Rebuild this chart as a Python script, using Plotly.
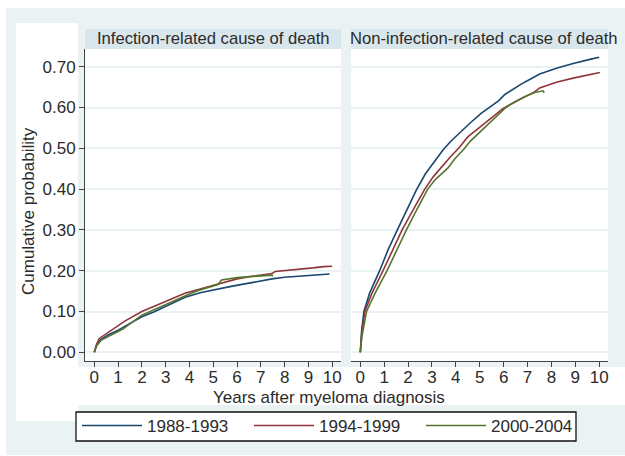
import plotly.graph_objects as go

W, H = 625, 456


def px(x):
    return x / W


def py(y):
    return 1 - y / H


# ---------------- data ----------------
series_names = ["1988-1993", "1994-1999", "2000-2004"]
series_colors = ["#1a476f", "#90353b", "#55752f"]
x_ticks = list(range(0, 11))
y_ticks = [0.0, 0.1, 0.2, 0.3, 0.4, 0.5, 0.6, 0.7]
y_tick_labels = ["0.00", "0.10", "0.20", "0.30", "0.40", "0.50", "0.60", "0.70"]
panel_titles = ["Infection-related cause of death", "Non-infection-related cause of death"]

# Infection-related cause of death
inf_t_8893 = [0, 0.1, 0.28, 0.6, 1.02, 1.5, 2.0, 2.5, 2.98, 3.4, 3.82, 4.45, 5.08, 5.7, 6.27, 6.9, 7.47, 8.0, 8.66, 9.3, 9.89]
inf_v_8893 = [0, 0.018, 0.032, 0.043, 0.055, 0.071, 0.087, 0.099, 0.112, 0.123, 0.135, 0.146, 0.154, 0.161, 0.167, 0.174, 0.180, 0.184, 0.187, 0.190, 0.192]

inf_t_9499 = [0, 0.1, 0.21, 0.67, 1.3, 2.0, 2.5, 2.98, 3.4, 3.81, 4.45, 5.08, 5.29, 6.0, 6.7, 7.47, 7.6, 8.0, 8.66, 9.2, 9.63, 10.0]
inf_v_9499 = [0, 0.02, 0.034, 0.052, 0.077, 0.100, 0.112, 0.124, 0.134, 0.145, 0.155, 0.165, 0.169, 0.180, 0.187, 0.193, 0.198, 0.200, 0.203, 0.207, 0.210, 0.211]

inf_t_0004 = [0, 0.1, 0.3, 0.7, 1.2, 2.0, 2.5, 3.0, 3.5, 4.0, 4.45, 5.01, 5.2, 5.35, 6.0, 6.7, 7.47, 7.5]
inf_v_0004 = [0, 0.016, 0.030, 0.042, 0.057, 0.091, 0.104, 0.118, 0.130, 0.143, 0.153, 0.163, 0.166, 0.177, 0.183, 0.186, 0.189, 0.186]

# Non-infection-related cause of death
non_t_8893 = [0, 0.05, 0.15, 0.39, 0.81, 1.16, 1.55, 2.0, 2.35, 2.72, 3.11, 3.46, 3.8, 4.23, 4.6, 5.07, 5.42, 5.8, 6.05, 6.4, 6.75, 7.17, 7.51, 8.21, 8.91, 9.61, 10.0]
non_v_8893 = [0, 0.05, 0.1, 0.145, 0.2, 0.251, 0.3, 0.355, 0.398, 0.437, 0.469, 0.496, 0.518, 0.543, 0.562, 0.586, 0.601, 0.617, 0.632, 0.646, 0.658, 0.671, 0.682, 0.696, 0.708, 0.718, 0.723]

non_t_9499 = [0, 0.06, 0.19, 0.49, 0.95, 1.37, 1.75, 2.21, 2.7, 3.05, 3.45, 3.74, 4.16, 4.5, 4.93, 5.3, 5.6, 5.98, 6.5, 6.89, 7.31, 7.51, 8.21, 8.91, 9.61, 10.03]
non_v_9499 = [0, 0.045, 0.1, 0.145, 0.2, 0.251, 0.3, 0.349, 0.4, 0.43, 0.458, 0.477, 0.503, 0.528, 0.548, 0.566, 0.58, 0.598, 0.614, 0.627, 0.639, 0.648, 0.662, 0.672, 0.680, 0.686]

non_t_0004 = [0, 0.07, 0.26, 0.62, 1.12, 1.52, 1.93, 2.36, 2.82, 3.15, 3.67, 3.95, 4.37, 4.6, 5.07, 5.4, 5.7, 6.05, 6.4, 6.85, 7.3, 7.65, 7.7]
non_v_0004 = [0, 0.04, 0.1, 0.145, 0.2, 0.251, 0.3, 0.349, 0.4, 0.424, 0.452, 0.474, 0.5, 0.517, 0.543, 0.56, 0.577, 0.598, 0.612, 0.626, 0.637, 0.641, 0.636]

left_series = [(inf_t_8893, inf_v_8893), (inf_t_9499, inf_v_9499), (inf_t_0004, inf_v_0004)]
right_series = [(non_t_8893, non_v_8893), (non_t_9499, non_v_9499), (non_t_0004, non_v_0004)]

# ---------------- style ----------------
FONT = "Liberation Sans, Arial, sans-serif"
FS = 17
FS_T = 16.6
TXT = "#2b2b2b"
OUTER = "#eaf2f3"
STRIP = "#d9e6eb"
GRID = "#eaf2f3"

fig = go.Figure()

for i, (t, v) in enumerate(left_series):
    fig.add_trace(go.Scatter(x=t, y=v, mode="lines", name=series_names[i],
                             line=dict(color=series_colors[i], width=1.6),
                             xaxis="x", yaxis="y", showlegend=True, hoverinfo="skip"))
for i, (t, v) in enumerate(right_series):
    fig.add_trace(go.Scatter(x=t, y=v, mode="lines", name=series_names[i],
                             line=dict(color=series_colors[i], width=1.6),
                             xaxis="x2", yaxis="y2", showlegend=False, hoverinfo="skip"))

xr = [-0.39, 10.37]
yr = [-0.0206, 0.7434]
ydom = [py(360.7), py(49)]

common_x = dict(range=xr, tickmode="array", tickvals=x_ticks, ticks="outside", ticklen=5,
                tickcolor="#444", tickwidth=1, showline=True, linecolor="#444", linewidth=1,
                showgrid=False, zeroline=False, ticklabelstandoff=-4,
                tickfont=dict(size=FS, color=TXT, family=FONT))

fig.update_layout(
    width=W, height=H,
    margin=dict(l=0, r=0, t=0, b=0, autoexpand=False),
    paper_bgcolor=OUTER,
    plot_bgcolor="white",
    font=dict(family=FONT, size=FS, color=TXT),
    xaxis=dict(domain=[px(85), px(341)], anchor="y", **common_x),
    xaxis2=dict(domain=[px(351), px(608)], anchor="y2", **common_x),
    yaxis=dict(domain=ydom, anchor="x", range=yr, tickmode="array", tickvals=y_ticks,
               ticktext=y_tick_labels, ticks="outside", ticklen=5, tickcolor="#444",
               showline=True, linecolor="#444", linewidth=1, showgrid=True,
               gridcolor=GRID, gridwidth=1.5, zeroline=False,
               tickfont=dict(size=FS, color=TXT, family=FONT)),
    yaxis2=dict(domain=ydom, anchor="x2", range=yr, tickmode="array", tickvals=y_ticks,
                showticklabels=False, ticks="", showline=False, showgrid=True,
                gridcolor=GRID, gridwidth=1.5, zeroline=False),
    legend=dict(orientation="h", x=px(77), y=py(408), xanchor="left", yanchor="top",
                bgcolor="rgba(0,0,0,0)", borderwidth=0,
                entrywidth=97, entrywidthmode="pixels", itemwidth=60,
                font=dict(size=FS, color=TXT, family=FONT)),
    showlegend=True,
)


def rect(x0, y0, x1, y1, fill, line=None):
    return dict(type="rect", xref="paper", yref="paper", x0=px(x0), x1=px(x1),
                y0=py(y1), y1=py(y0), fillcolor=fill,
                line=line if line else dict(width=0), layer="below")


shapes = [
    # white outer border strips
    rect(0, 0, 625, 8, "white"),
    rect(0, 0, 6, 456, "white"),
    rect(0, 455, 625, 456, "white"),
    # white inner regions
    rect(16, 23, 78, 421, "white"),
    rect(16, 367, 625, 405, "white"),
    # strips
    rect(85, 29, 341, 49, STRIP),
    rect(351, 29, 608, 49, STRIP),
    # legend box
    rect(76, 412, 576, 441, "white", dict(width=1.3, color="#111")),
]
fig.update_layout(shapes=shapes)

annotations = [
    dict(text=panel_titles[0], x=px(213), y=py(39), xref="paper", yref="paper",
         xanchor="center", yanchor="middle", showarrow=False, font=dict(size=FS_T, color=TXT)),
    dict(text=panel_titles[1], x=px(484), y=py(39), xref="paper", yref="paper",
         xanchor="center", yanchor="middle", showarrow=False, font=dict(size=FS_T, color=TXT)),
    dict(text="Cumulative probability", x=px(28), y=py(211), xref="paper", yref="paper",
         xanchor="center", yanchor="middle", textangle=-90, showarrow=False,
         font=dict(size=FS, color=TXT)),
    dict(text="Years after myeloma diagnosis", x=px(329), y=py(397), xref="paper", yref="paper",
         xanchor="center", yanchor="middle", showarrow=False, font=dict(size=FS, color=TXT)),
]
fig.update_layout(annotations=annotations)

fig.write_html("out.html", config={"displayModeBar": False},
               post_script="document.body.style.margin='0';document.body.style.padding='0';")
